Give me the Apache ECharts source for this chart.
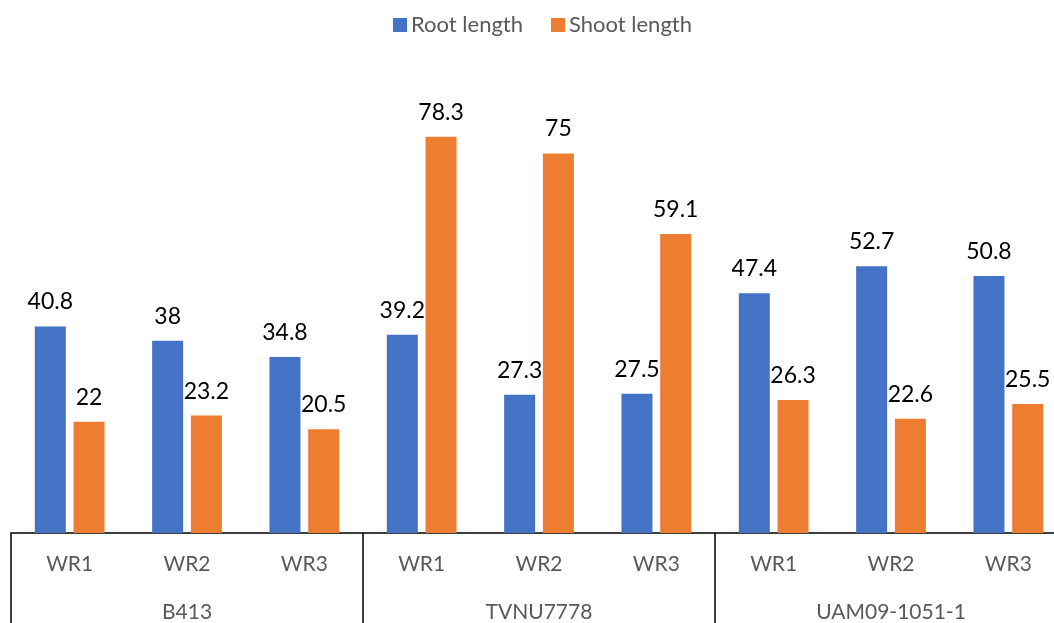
<!DOCTYPE html>
<html>
<head>
<meta charset="utf-8">
<script src="https://cdn.jsdelivr.net/npm/echarts@6/dist/echarts.min.js"></script>
<style>
  html, body { margin: 0; padding: 0; background: #fff; overflow: hidden; }
  /* the plot runs slightly past the right edge of the window */
  #chart { width: 1067px; height: 623px; }
</style>
</head>
<body>
<div id="chart"></div>
<script>
// Genotypes (outer axis level) and water regimes (inner axis level)
const genotypes = ['B413', 'TVNU7778', 'UAM09-1051-1'];
const regimes = ['WR1', 'WR2', 'WR3'];

// Lengths per genotype x regime, in the same order as the categories
const rootLength = [40.8, 38, 34.8, 39.2, 27.3, 27.5, 47.4, 52.7, 50.8];
const shootLength = [22, 23.2, 20.5, 78.3, 75, 59.1, 26.3, 22.6, 25.5];

const seriesNames = ['Root length', 'Shoot length'];

const categories = [];
genotypes.forEach(g => regimes.forEach(r => categories.push(g + '|' + r)));

const FONT = 'Lato, "Liberation Sans", sans-serif';
const GREY = '#595959';

const chart = echarts.init(document.getElementById('chart'), null, { renderer: 'canvas' });

const labelStyle = {
  show: true,
  position: 'top',
  distance: 13,
  color: '#000',
  fontSize: 23,
  fontFamily: FONT
};

chart.setOption({
  backgroundColor: '#fff',
  animation: false,
  legend: {
    top: 9,
    left: 388,
    itemWidth: 14,
    itemHeight: 14,
    itemGap: 28,
    icon: 'rect',
    textStyle: { color: GREY, fontSize: 22, fontFamily: FONT, padding: [0, 0, 0, -1] },
    data: seriesNames
  },
  grid: { left: 11, right: 0, top: 27, bottom: 87, containLabel: false },
  xAxis: [
    {
      type: 'category',
      data: categories,
      position: 'bottom',
      axisLine: { show: true, lineStyle: { color: '#000', width: 1.5 } },
      axisTick: { show: false },
      axisLabel: {
        margin: 21,
        color: GREY,
        fontSize: 21,
        fontFamily: FONT,
        interval: 0,
        formatter: v => v.split('|')[1]
      }
    },
    {
      type: 'category',
      data: genotypes,
      position: 'bottom',
      axisLine: { show: false },
      axisTick: { show: true, length: 90, lineStyle: { color: '#000', width: 1.5 } },
      axisLabel: {
        margin: 69,
        color: GREY,
        fontSize: 21,
        fontFamily: FONT,
        interval: 0
      }
    }
  ],
  yAxis: {
    type: 'value',
    min: 0,
    max: 100,
    show: false,
    splitLine: { show: false }
  },
  series: [
    {
      name: seriesNames[0],
      type: 'bar',
      xAxisIndex: 0,
      data: rootLength,
      barWidth: 31,
      barGap: '25%',
      itemStyle: { color: '#4472C4' },
      label: labelStyle
    },
    {
      name: seriesNames[1],
      type: 'bar',
      xAxisIndex: 0,
      data: shootLength,
      barWidth: 31,
      barGap: '25%',
      itemStyle: { color: '#ED7D31' },
      label: labelStyle
    }
  ]
});
</script>
</body>
</html>
